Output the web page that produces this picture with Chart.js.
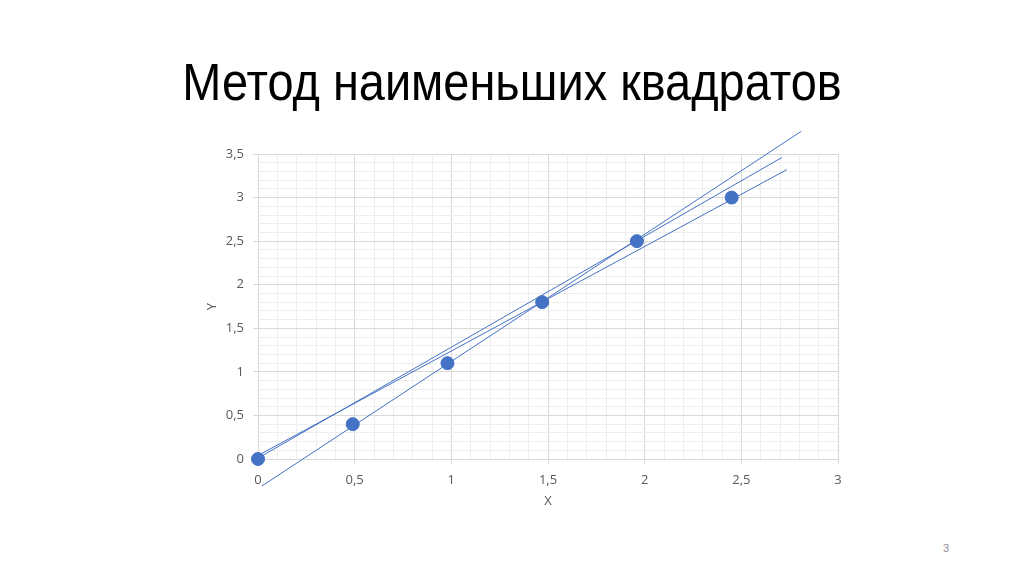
<!DOCTYPE html>
<html>
<head>
<meta charset="utf-8">
<script src="https://cdn.jsdelivr.net/npm/chart.js@4.4.1/dist/chart.umd.min.js"></script>
<style>
    html, body { margin: 0; padding: 0; background: #fff; }
    body { width: 1024px; height: 574px; position: relative; overflow: hidden; }
    #title {
        position: absolute; left: 0; top: 53px; width: 1024px;
        text-align: center; font-family: "Liberation Sans", Arial, sans-serif;
        font-size: 51px; line-height: 60px; color: #000;
        transform: scaleX(0.92); transform-origin: 512px 0;
    }
    #page { position: absolute; left: 943px; top: 542px; font-family: "Liberation Sans", Arial, sans-serif; font-size: 11px; color: #8c8c8c; }
    #wrap { position: absolute; left: 0; top: 0; width: 1024px; height: 574px; }
</style>
</head>
<body>
<div id="title">Метод наименьших квадратов</div>
<div id="page">3</div>
<div id="wrap"><canvas id="chart"></canvas></div>
<script>
// measured points
const xValues = [0, 0.49, 0.98, 1.47, 1.96, 2.45];
const yValues = [0, 0.4, 1.1, 1.8, 2.5, 3.0];

// candidate lines, endpoints [x, y]
const lineA = [[0, 0.01], [2.71, 3.46]];
const lineB = [[0, 0.04], [2.735, 3.32]];
const lineC = [[0.02, -0.31], [2.81, 3.76]];

const xTitle = 'X';
const yTitle = 'Y';

const blue = '#4472C4';

function isMajor(v) {
    return Math.abs(v * 2 - Math.round(v * 2)) < 1e-6;
}

function fmt(v) {
    if (!isMajor(v)) return '';
    return String(Math.round(v * 2) / 2).replace('.', ',');
}

function toPts(arr) {
    return arr.map(p => ({ x: p[0], y: p[1] }));
}

function lineSet(arr) {
    return {
        data: toPts(arr),
        showLine: true,
        borderColor: blue,
        borderWidth: 1,
        pointRadius: 0,
        clip: false
    };
}

const tickFont = { family: '"Open Sans", "Noto Sans", sans-serif', size: 13 };

const ctx = document.getElementById('chart').getContext('2d');
new Chart(ctx, {
    type: 'scatter',
    data: {
        datasets: [
            {
                data: xValues.map((x, i) => ({ x: x, y: yValues[i] })),
                backgroundColor: blue,
                borderColor: blue,
                pointRadius: 6.5,
                pointHoverRadius: 6.5,
                clip: false
            },
            lineSet(lineA),
            lineSet(lineB),
            lineSet(lineC)
        ]
    },
    options: {
        responsive: true,
        maintainAspectRatio: false,
        animation: false,
        layout: { padding: { left: 190, right: 186, top: 154, bottom: 60 } },
        plugins: {
            legend: { display: false },
            tooltip: { enabled: false }
        },
        scales: {
            x: {
                type: 'linear',
                min: 0,
                max: 3,
                afterFit: scale => { scale.height = 55; },
                ticks: {
                    stepSize: 0.1,
                    autoSkip: false,
                    maxRotation: 0,
                    padding: 8,
                    color: '#595959',
                    font: tickFont,
                    callback: v => fmt(v)
                },
                grid: {
                    color: c => isMajor(c.tick.value) ? '#d9d9d9' : '#eeeeee',
                    tickColor: c => isMajor(c.tick.value) ? '#d9d9d9' : 'rgba(0,0,0,0)',
                    tickLength: 5
                },
                border: { color: '#d9d9d9' },
                title: {
                    display: true,
                    text: xTitle,
                    color: '#595959',
                    font: tickFont,
                    padding: { top: 0, bottom: 5 }
                }
            },
            y: {
                type: 'linear',
                min: 0,
                max: 3.5,
                afterFit: scale => { scale.width = 68; },
                ticks: {
                    stepSize: 0.1,
                    autoSkip: false,
                    padding: 9,
                    color: '#595959',
                    font: tickFont,
                    callback: v => fmt(v)
                },
                grid: {
                    color: c => isMajor(c.tick.value) ? '#d9d9d9' : '#eeeeee',
                    tickColor: c => isMajor(c.tick.value) ? '#d9d9d9' : 'rgba(0,0,0,0)',
                    tickLength: 5
                },
                border: { color: '#d9d9d9' },
                title: {
                    display: true,
                    text: yTitle,
                    color: '#595959',
                    font: tickFont,
                    padding: { top: 14, bottom: 0 }
                }
            }
        }
    }
});
</script>
</body>
</html>
